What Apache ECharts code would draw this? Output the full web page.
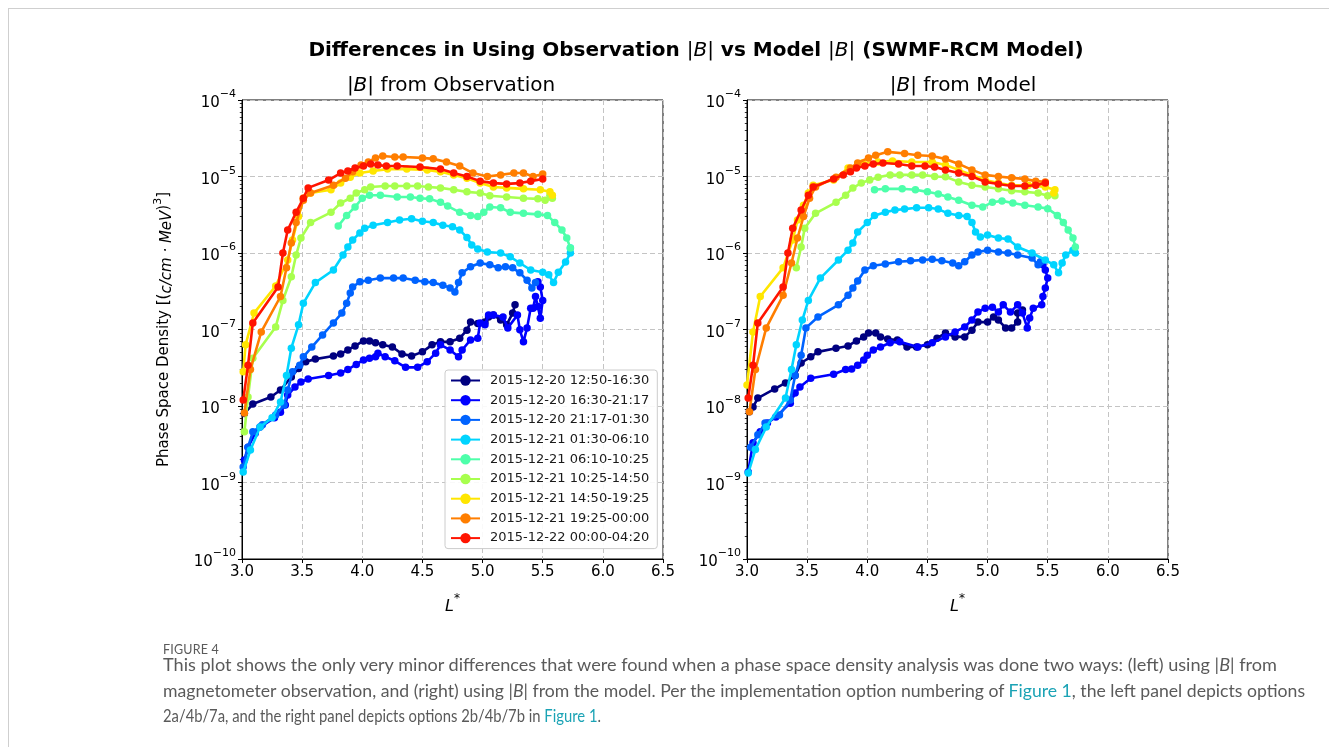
<!DOCTYPE html>
<html><head><meta charset="utf-8">
<script src="https://cdn.jsdelivr.net/npm/echarts@6/dist/echarts.min.js"></script>
<style>
html,body{margin:0;padding:0;background:#fff;overflow:hidden;width:1329px;height:747px}
#chart{position:absolute;left:0;top:0;width:1329px;height:747px}
#frame{position:absolute;left:8px;top:8px;width:1400px;height:800px;border-top:1px solid #cfcfcf;border-left:1px solid #cfcfcf;pointer-events:none}
.cap{position:absolute;left:163px;font-family:Lato,'Open Sans',sans-serif;color:#5a5a5a;white-space:nowrap;transform-origin:0 50%}
#figlabel{top:641px;font-size:13px;line-height:16px;letter-spacing:0.2px}
.ln{font-size:17px;line-height:26px}
.lk{color:#1ba3b5}
</style></head>
<body>
<div id="chart"></div>
<div id="frame"></div>
<div class="cap" id="figlabel">FIGURE 4</div>
<div class="cap ln" id="l1" style="top:652px">This plot shows the only very minor differences that were found when a phase space density analysis was done two ways: (left) using |<i>B</i>| from</div>
<div class="cap ln" id="l2" style="top:678px">magnetometer observation, and (right) using |<i>B</i>| from the model. Per the implementation option numbering of <span class="lk">Figure 1</span>, the left panel depicts options</div>
<div class="cap ln" id="l3" style="top:703px">2a/4b/7a, and the right panel depicts options 2b/4b/7b in <span class="lk">Figure 1</span>.</div>
<script>
// ---- legend labels (time periods) ----
const periods = ['2015-12-20 12:50-16:30','2015-12-20 16:30-21:17','2015-12-20 21:17-01:30','2015-12-21 01:30-06:10','2015-12-21 06:10-10:25','2015-12-21 10:25-14:50','2015-12-21 14:50-19:25','2015-12-21 19:25-00:00','2015-12-22 00:00-04:20'];
// ---- x ticks ----
const xTicks = [3.0, 3.5, 4.0, 4.5, 5.0, 5.5, 6.0, 6.5];
// ---- |B| from observation: [L*, PSD] ----
const obs0 = [[3.02,8.0e-9],[3.09,1.06e-8],[3.24,1.31e-8],[3.32,1.62e-8],[3.41,2.4e-8],[3.47,3.1e-8],[3.53,3.8e-8],[3.61,4.1e-8],[3.76,4.5e-8],[3.82,4.8e-8],[3.88,5.4e-8],[3.94,6.1e-8],[4.01,7.1e-8],[4.06,7.1e-8],[4.11,6.7e-8],[4.17,6.3e-8],[4.25,5.9e-8],[4.33,4.8e-8],[4.41,4.5e-8],[4.50,5.1e-8],[4.58,6.3e-8],[4.65,6.9e-8],[4.73,6.9e-8],[4.81,7.7e-8],[4.87,9.8e-8],[4.90,1.25e-7],[4.96,1.2e-7],[5.02,1.25e-7],[5.05,1.46e-7],[5.09,1.55e-7],[5.15,1.33e-7],[5.20,1.15e-7],[5.25,1.64e-7],[5.27,2.1e-7]];
const obs1 = [[3.02,1.97e-9],[3.05,2.9e-9],[3.11,4.4e-9],[3.15,5.3e-9],[3.27,7.0e-9],[3.32,8.3e-9],[3.36,1.03e-8],[3.38,1.39e-8],[3.44,1.77e-8],[3.49,2.06e-8],[3.55,2.25e-8],[3.72,2.5e-8],[3.82,2.7e-8],[3.88,3.0e-8],[3.95,3.5e-8],[4.01,4.0e-8],[4.06,4.2e-8],[4.11,4.4e-8],[4.13,4.9e-8],[4.19,4.4e-8],[4.27,3.9e-8],[4.36,3.2e-8],[4.46,3.2e-8],[4.54,3.8e-8],[4.61,4.9e-8],[4.65,6.3e-8],[4.73,5.4e-8],[4.80,4.4e-8],[4.83,5.4e-8],[4.90,7.3e-8],[4.96,7.7e-8],[4.98,1.22e-7],[5.02,1.15e-7],[5.05,1.55e-7],[5.09,1.55e-7],[5.17,1.46e-7],[5.21,1.05e-7],[5.29,1.55e-7],[5.31,9.9e-8],[5.34,6.9e-8],[5.37,1.05e-7],[5.40,1.9e-7],[5.42,1.9e-7],[5.44,2.7e-7],[5.46,2.0e-7],[5.48,1.4e-7],[5.50,2.4e-7],[5.48,3.6e-7],[5.46,4.2e-7]];
const obs2 = [[3.01,1.6e-9],[3.05,2.9e-9],[3.09,4.6e-9],[3.17,5.7e-9],[3.28,7.6e-9],[3.35,1.03e-8],[3.38,1.62e-8],[3.42,2.8e-8],[3.48,3.4e-8],[3.51,4.4e-8],[3.58,5.9e-8],[3.67,8.5e-8],[3.76,1.22e-7],[3.83,1.64e-7],[3.87,2.2e-7],[3.90,3.0e-7],[3.92,3.6e-7],[3.98,4.2e-7],[4.05,4.4e-7],[4.15,4.7e-7],[4.26,4.7e-7],[4.34,4.7e-7],[4.44,4.4e-7],[4.52,4.2e-7],[4.59,4.1e-7],[4.67,3.8e-7],[4.73,3.5e-7],[4.77,3.1e-7],[4.80,4.1e-7],[4.83,5.5e-7],[4.90,6.6e-7],[4.98,7.4e-7],[5.06,7.0e-7],[5.13,6.4e-7],[5.19,6.6e-7],[5.25,6.4e-7],[5.31,5.5e-7],[5.37,4.4e-7],[5.41,3.5e-7],[5.44,4.1e-7]];
const obs3 = [[3.01,1.37e-9],[3.07,2.66e-9],[3.15,5.3e-9],[3.25,7.0e-9],[3.32,1.13e-8],[3.37,2.5e-8],[3.41,5.7e-8],[3.47,1.15e-7],[3.51,2.2e-7],[3.61,4.1e-7],[3.76,6.0e-7],[3.84,9.4e-7],[3.88,1.2e-6],[3.92,1.48e-6],[3.98,1.83e-6],[4.02,2.1e-6],[4.09,2.3e-6],[4.21,2.5e-6],[4.31,2.7e-6],[4.41,2.8e-6],[4.50,2.6e-6],[4.59,2.5e-6],[4.67,2.3e-6],[4.75,2.2e-6],[4.81,2.0e-6],[4.87,1.6e-6],[4.91,1.27e-6],[4.96,1.13e-6],[5.04,1.03e-6],[5.15,1.0e-6],[5.23,8.9e-7],[5.31,7.4e-7],[5.40,6.0e-7],[5.50,5.6e-7],[5.55,5.2e-7],[5.59,4.1e-7],[5.63,5.6e-7],[5.69,7.6e-7],[5.73,1.0e-6],[5.73,1.16e-6]];
const obs4 = [[3.80,2.25e-6],[3.87,3.1e-6],[3.94,4.0e-6],[4.00,5.2e-6],[4.06,5.7e-6],[4.15,5.7e-6],[4.29,5.4e-6],[4.40,5.4e-6],[4.48,5.2e-6],[4.56,5.1e-6],[4.65,4.6e-6],[4.71,4.1e-6],[4.81,3.4e-6],[4.90,3.1e-6],[4.96,3.0e-6],[5.01,3.4e-6],[5.06,4.0e-6],[5.15,3.9e-6],[5.23,3.4e-6],[5.34,3.3e-6],[5.46,3.2e-6],[5.54,3.1e-6],[5.60,2.5e-6],[5.66,2.0e-6],[5.70,1.57e-6],[5.73,1.16e-6]];
const obs5 = [[3.02,4.6e-9],[3.05,1.31e-8],[3.09,4.2e-8],[3.28,1.08e-7],[3.34,2.4e-7],[3.41,4.9e-7],[3.45,9.4e-7],[3.49,1.57e-6],[3.57,2.5e-6],[3.74,3.4e-6],[3.82,4.5e-6],[3.90,5.2e-6],[3.95,6.1e-6],[4.02,6.7e-6],[4.07,7.3e-6],[4.19,7.5e-6],[4.27,7.5e-6],[4.37,7.5e-6],[4.46,7.5e-6],[4.55,7.3e-6],[4.65,7.1e-6],[4.76,6.7e-6],[4.87,6.3e-6],[4.98,6.1e-6],[5.06,5.6e-6],[5.20,5.4e-6],[5.34,5.2e-6],[5.46,5.1e-6],[5.52,4.9e-6],[5.58,5.2e-6],[5.56,5.7e-6]];
const obs6 = [[3.01,2.8e-8],[3.03,6.3e-8],[3.10,1.64e-7],[3.28,3.7e-7],[3.38,8.1e-7],[3.42,1.48e-6],[3.47,3.0e-6],[3.51,5.2e-6],[3.57,6.1e-6],[3.74,6.7e-6],[3.82,8.2e-6],[3.90,9.8e-6],[3.98,1.11e-5],[4.09,1.18e-5],[4.21,1.25e-5],[4.37,1.25e-5],[4.54,1.22e-5],[4.65,1.15e-5],[4.76,1.05e-5],[4.87,9.5e-6],[4.98,8.2e-6],[5.09,7.3e-6],[5.20,7.1e-6],[5.34,6.9e-6],[5.48,6.7e-6],[5.56,6.3e-6],[5.58,5.7e-6]];
const obs7 = [[3.02,8.1e-9],[3.07,3.0e-8],[3.16,9.3e-8],[3.32,2.7e-7],[3.37,6.4e-7],[3.41,1.35e-6],[3.45,2.5e-6],[3.51,4.9e-6],[3.57,6.1e-6],[3.76,7.7e-6],[3.86,9.5e-6],[3.92,1.15e-5],[3.99,1.41e-5],[4.05,1.55e-5],[4.11,1.75e-5],[4.17,1.85e-5],[4.27,1.8e-5],[4.34,1.8e-5],[4.50,1.75e-5],[4.59,1.7e-5],[4.70,1.55e-5],[4.81,1.37e-5],[4.92,1.11e-5],[5.04,1.0e-5],[5.15,1.05e-5],[5.26,1.11e-5],[5.34,1.11e-5],[5.42,1.0e-5],[5.50,1.08e-5]];
const obs8 = [[3.01,1.2e-8],[3.05,3.4e-8],[3.09,1.22e-7],[3.30,3.6e-7],[3.34,1.0e-6],[3.38,2.0e-6],[3.45,3.4e-6],[3.51,5.2e-6],[3.55,7.1e-6],[3.72,9.0e-6],[3.82,1.11e-5],[3.88,1.18e-5],[3.94,1.29e-5],[4.01,1.37e-5],[4.07,1.46e-5],[4.13,1.41e-5],[4.20,1.37e-5],[4.29,1.37e-5],[4.48,1.33e-5],[4.65,1.25e-5],[4.76,1.11e-5],[4.87,1.0e-5],[4.98,8.7e-6],[5.09,8.2e-6],[5.20,8.0e-6],[5.31,8.2e-6],[5.40,8.7e-6],[5.50,9.3e-6]];
// ---- |B| from model: [L*, PSD] ----
const mod0 = [[3.02,8.4e-9],[3.05,9.7e-9],[3.09,1.27e-8],[3.23,1.67e-8],[3.32,2.0e-8],[3.40,2.5e-8],[3.45,3.65e-8],[3.53,4.4e-8],[3.59,5.1e-8],[3.74,5.7e-8],[3.84,6.1e-8],[3.91,7.1e-8],[3.97,8.0e-8],[4.01,9.0e-8],[4.07,9.0e-8],[4.11,8.0e-8],[4.17,7.5e-8],[4.25,7.3e-8],[4.33,5.9e-8],[4.41,5.9e-8],[4.50,6.3e-8],[4.58,7.7e-8],[4.65,9.0e-8],[4.73,8.0e-8],[4.81,8.0e-8],[4.87,9.8e-8],[4.92,1.25e-7],[5.00,1.25e-7],[5.05,1.46e-7],[5.09,1.33e-7],[5.15,1.05e-7],[5.20,1.05e-7],[5.25,1.25e-7],[5.25,1.64e-7],[5.29,1.8e-7]];
const mod1 = [[3.01,1.37e-9],[3.05,3.3e-9],[3.11,4.6e-9],[3.17,6.0e-9],[3.24,7.2e-9],[3.36,1.09e-8],[3.40,1.48e-8],[3.44,1.77e-8],[3.53,2.3e-8],[3.72,2.6e-8],[3.82,3.0e-8],[3.87,3.05e-8],[3.92,3.4e-8],[3.97,4.0e-8],[4.00,4.6e-8],[4.05,5.4e-8],[4.11,5.9e-8],[4.19,6.7e-8],[4.27,6.9e-8],[4.42,5.9e-8],[4.54,6.7e-8],[4.65,8.0e-8],[4.73,9.3e-8],[4.81,1.08e-7],[4.87,1.33e-7],[4.92,1.69e-7],[4.98,1.9e-7],[5.04,1.95e-7],[5.09,1.69e-7],[5.13,2.1e-7],[5.19,1.69e-7],[5.25,2.1e-7],[5.29,1.64e-7],[5.33,1.05e-7],[5.35,1.41e-7],[5.38,1.9e-7],[5.45,2.1e-7],[5.46,2.7e-7],[5.48,3.5e-7],[5.50,4.7e-7],[5.48,6.0e-7],[5.46,7.0e-7],[5.44,7.6e-7]];
const mod2 = [[3.03,2.9e-9],[3.09,4.2e-9],[3.15,6.0e-9],[3.27,7.6e-9],[3.36,1.2e-8],[3.40,2.5e-8],[3.45,4.6e-8],[3.49,1.05e-7],[3.59,1.46e-7],[3.76,2.1e-7],[3.84,2.8e-7],[3.88,3.5e-7],[3.92,4.3e-7],[3.98,6.0e-7],[4.05,6.8e-7],[4.15,7.2e-7],[4.26,7.7e-7],[4.36,7.9e-7],[4.46,8.1e-7],[4.54,8.3e-7],[4.62,7.9e-7],[4.71,7.4e-7],[4.76,6.8e-7],[4.81,7.7e-7],[4.87,9.4e-7],[4.92,1.03e-6],[5.00,1.09e-6],[5.09,1.03e-6],[5.17,1.0e-6],[5.25,9.4e-7],[5.37,8.6e-7],[5.42,7.0e-7],[5.44,7.6e-7]];
const mod3 = [[3.01,1.33e-9],[3.07,2.7e-9],[3.16,5.3e-9],[3.32,1.27e-8],[3.37,3.0e-8],[3.41,6.3e-8],[3.46,1.33e-7],[3.51,2.4e-7],[3.61,4.7e-7],[3.76,8.1e-7],[3.84,1.09e-6],[3.88,1.35e-6],[3.92,1.88e-6],[4.00,2.5e-6],[4.06,3.1e-6],[4.15,3.4e-6],[4.23,3.65e-6],[4.31,3.75e-6],[4.41,3.9e-6],[4.51,3.9e-6],[4.59,3.75e-6],[4.67,3.3e-6],[4.76,3.1e-6],[4.83,3.0e-6],[4.87,2.5e-6],[4.90,1.88e-6],[4.94,1.62e-6],[5.00,1.72e-6],[5.09,1.57e-6],[5.17,1.52e-6],[5.25,1.2e-6],[5.37,1.0e-6],[5.48,8.1e-7],[5.55,7.0e-7],[5.59,5.5e-7],[5.62,7.4e-7],[5.65,9.4e-7],[5.71,1.09e-6],[5.73,1.0e-6]];
const mod4 = [[4.06,6.7e-6],[4.15,6.9e-6],[4.29,6.9e-6],[4.40,6.7e-6],[4.50,6.3e-6],[4.59,5.9e-6],[4.67,5.4e-6],[4.76,4.9e-6],[4.87,4.2e-6],[4.96,4.0e-6],[5.04,4.6e-6],[5.12,4.8e-6],[5.21,4.5e-6],[5.31,4.2e-6],[5.42,4.0e-6],[5.50,3.8e-6],[5.58,3.1e-6],[5.63,2.5e-6],[5.67,2.0e-6],[5.71,1.57e-6],[5.73,1.2e-6]];
const mod5 = [[3.41,6.4e-7],[3.45,1.2e-6],[3.48,2.1e-6],[3.57,3.3e-6],[3.74,4.6e-6],[3.82,5.7e-6],[3.88,7.1e-6],[3.95,8.2e-6],[4.02,9.0e-6],[4.09,9.8e-6],[4.19,1.05e-5],[4.27,1.05e-5],[4.37,1.05e-5],[4.46,1.05e-5],[4.56,1.0e-5],[4.65,9.9e-6],[4.76,8.5e-6],[4.87,7.7e-6],[4.98,7.3e-6],[5.09,6.9e-6],[5.20,6.5e-6],[5.31,6.3e-6],[5.42,6.1e-6],[5.50,5.6e-6],[5.56,5.6e-6]];
const mod6 = [[3.00,1.88e-8],[3.05,9.3e-8],[3.11,2.7e-7],[3.30,6.4e-7],[3.38,1.48e-6],[3.42,2.7e-6],[3.47,4.2e-6],[3.51,6.1e-6],[3.55,7.7e-6],[3.72,9.0e-6],[3.84,1.29e-5],[3.96,1.5e-5],[4.09,1.55e-5],[4.21,1.6e-5],[4.37,1.55e-5],[4.54,1.55e-5],[4.65,1.41e-5],[4.76,1.22e-5],[4.87,1.05e-5],[4.98,9.0e-6],[5.09,8.2e-6],[5.20,7.7e-6],[5.34,7.7e-6],[5.48,7.3e-6],[5.56,6.7e-6],[5.55,6.1e-6]];
const mod7 = [[3.02,8.4e-9],[3.07,3.0e-8],[3.16,1.05e-7],[3.30,2.8e-7],[3.37,7.4e-7],[3.42,1.57e-6],[3.47,3.0e-6],[3.52,5.2e-6],[3.57,7.3e-6],[3.74,9.8e-6],[3.86,1.29e-5],[3.92,1.5e-5],[4.01,1.75e-5],[4.07,1.9e-5],[4.17,2.1e-5],[4.31,2.0e-5],[4.42,1.9e-5],[4.54,1.85e-5],[4.65,1.69e-5],[4.76,1.46e-5],[4.87,1.22e-5],[4.98,1.05e-5],[5.09,1.0e-5],[5.20,9.6e-6],[5.31,9.3e-6],[5.40,8.7e-6],[5.48,8.5e-6]];
const mod8 = [[3.01,1.27e-8],[3.05,3.4e-8],[3.09,1.22e-7],[3.30,3.6e-7],[3.34,1.0e-6],[3.38,2.1e-6],[3.45,3.65e-6],[3.51,5.7e-6],[3.55,7.3e-6],[3.72,9.3e-6],[3.80,1.05e-5],[3.86,1.15e-5],[3.91,1.29e-5],[3.98,1.37e-5],[4.05,1.46e-5],[4.13,1.5e-5],[4.26,1.46e-5],[4.37,1.37e-5],[4.48,1.37e-5],[4.56,1.33e-5],[4.65,1.22e-5],[4.76,1.11e-5],[4.87,1.0e-5],[4.98,8.5e-6],[5.09,8.0e-6],[5.20,7.5e-6],[5.31,7.5e-6],[5.40,7.7e-6],[5.48,8.2e-6]];

const obsSeries = [obs0, obs1, obs2, obs3, obs4, obs5, obs6, obs7, obs8];
const modSeries = [mod0, mod1, mod2, mod3, mod4, mod5, mod6, mod7, mod8];
const palette = ['#000080','#0000ff','#0063ff','#00d4ff','#4dffaa','#a8ff4e','#ffe600','#ff7e00','#ff1400'];
const minorVals = [];
for (let e = -10; e < -4; e++) for (let m = 2; m <= 9; m++) minorVals.push(m * Math.pow(10, e));

const FONT = 'DejaVu Sans';
const chart = echarts.init(document.getElementById('chart'), null, {renderer: 'canvas'});
const gridL = 242, gridR = 747, gridW = 421, gridT = 100, gridH = 459;

function xAxisCfg(gi) {
  return {
    type: 'value', gridIndex: gi, min: 3, max: 6.5, interval: 0.5,
    name: '{i|L}{s|*}', nameLocation: 'middle', nameGap: 34,
    nameTextStyle: {fontFamily: FONT, color: '#000', rich: {
      i: {fontStyle: 'italic', fontSize: 16, fontFamily: FONT, lineHeight: 22, verticalAlign: 'bottom'},
      s: {fontSize: 12, fontFamily: FONT, lineHeight: 14, verticalAlign: 'top'}}},
    axisLine: {show: true, lineStyle: {color: '#000', width: 1}},
    axisTick: {show: true, length: 4, lineStyle: {color: '#000'}},
    axisLabel: {fontFamily: FONT, fontSize: 15, color: '#000', margin: 6, showMinLabel: true, showMaxLabel: true,
      formatter: v => v.toFixed(1)},
    splitLine: {show: true, lineStyle: {color: '#c4c4c4', type: [5, 3], width: 1}}
  };
}
function yAxisCfg(gi, withName) {
  return {
    type: 'log', logBase: 10, gridIndex: gi, min: 1e-10, max: 1e-4, splitNumber: 6,
    name: withName ? 'Phase Space Density [({i|c/cm · MeV}){s|3}]' : '',
    nameLocation: 'middle', nameGap: 67, nameRotate: 90,
    nameTextStyle: {fontFamily: FONT, fontSize: 15, color: '#000', rich: {
      i: {fontStyle: 'italic', fontSize: 15, fontFamily: FONT, lineHeight: 22, verticalAlign: 'bottom'},
      s: {fontSize: 11, fontFamily: FONT, lineHeight: 12, verticalAlign: 'top'}}},
    axisLine: {show: true, lineStyle: {color: '#000', width: 1}},
    axisTick: {show: true, length: 4, lineStyle: {color: '#000'}},
    axisLabel: {fontFamily: FONT, fontSize: 15, color: '#000', margin: 6,
      formatter: v => '{b|10}{s|−' + Math.round(-Math.log10(v)) + '}',
      rich: {b: {fontSize: 15, fontFamily: FONT, color: '#000', lineHeight: 22, verticalAlign: 'bottom'},
             s: {fontSize: 11, fontFamily: FONT, color: '#000', lineHeight: 12, verticalAlign: 'top'}}},
    splitLine: {show: true, lineStyle: {color: '#c4c4c4', type: [5, 3], width: 1}}
  };
}
function minorAxisCfg(gi) {
  return {
    type: 'log', logBase: 10, gridIndex: gi, min: 1e-10, max: 1e-4, position: 'left',
    axisLine: {show: false}, axisLabel: {show: false}, splitLine: {show: false},
    axisTick: {show: true, length: 2.2, customValues: minorVals, lineStyle: {color: '#000', width: 0.8}}
  };
}

const series = [];
obsSeries.forEach((d, i) => series.push({
  name: periods[i], type: 'line', xAxisIndex: 0, yAxisIndex: 0, data: d,
  symbol: 'circle', symbolSize: 7.5, showSymbol: true, color: palette[i],
  lineStyle: {width: 2.6, color: palette[i]}, itemStyle: {color: palette[i]}, z: 3 + i
}));
modSeries.forEach((d, i) => series.push({
  name: periods[i], type: 'line', xAxisIndex: 1, yAxisIndex: 1, data: d,
  symbol: 'circle', symbolSize: 7.5, showSymbol: true, color: palette[i],
  lineStyle: {width: 2.6, color: palette[i]}, itemStyle: {color: palette[i]}, z: 3 + i
}));

const mrich = {
  t: {fontFamily: FONT, fontWeight: 'bold', fontSize: 20, color: '#000'},
  m: {fontFamily: FONT, fontWeight: 'normal', fontSize: 20, color: '#000'},
  mi: {fontFamily: FONT, fontWeight: 'normal', fontStyle: 'italic', fontSize: 20, color: '#000'},
  n: {fontFamily: FONT, fontWeight: 'normal', fontSize: 20, color: '#000'},
  ni: {fontFamily: FONT, fontWeight: 'normal', fontStyle: 'italic', fontSize: 20, color: '#000'}
};

chart.setOption({
  animation: false,
  backgroundColor: '#fff',
  textStyle: {fontFamily: FONT},
  title: [
    {text: '{t|Differences in Using Observation }{m||}{mi|B}{m||}{t| vs Model }{m||}{mi|B}{m||}{t| (SWMF-RCM Model)}',
     left: 691, top: 36, textAlign: 'center', textStyle: {fontWeight: 'normal', rich: mrich}},
    {text: '{n||}{ni|B}{n||}{n| from Observation}', left: 446, top: 71, textAlign: 'center', textStyle: {fontWeight: 'normal', rich: mrich}},
    {text: '{n||}{ni|B}{n||}{n| from Model}', left: 958, top: 71, textAlign: 'center', textStyle: {fontWeight: 'normal', rich: mrich}}
  ],
  legend: {
    show: true, orient: 'vertical', left: 445, top: 370,
    data: periods,
    itemWidth: 29, itemHeight: 13, itemGap: 6.7,
    padding: [4, 8, 4, 5],
    backgroundColor: 'rgba(255,255,255,0.9)', borderColor: '#cccccc', borderWidth: 1, borderRadius: 3,
    textStyle: {fontFamily: FONT, fontSize: 13, color: '#1a1a1a', padding: [0, 0, 0, 5]},
    selectedMode: false
  },
  grid: [
    {left: gridL, top: gridT, width: gridW, height: gridH, show: true, borderColor: '#000', borderWidth: 1, backgroundColor: 'transparent'},
    {left: gridR, top: gridT, width: gridW, height: gridH, show: true, borderColor: '#000', borderWidth: 1, backgroundColor: 'transparent'}
  ],
  xAxis: [xAxisCfg(0), xAxisCfg(1)],
  yAxis: [yAxisCfg(0, true), yAxisCfg(1, false), minorAxisCfg(0), minorAxisCfg(1)],
  series: series
});

// fit each caption line horizontally to the width it has in the figure
(function fitCaption() {
  const targets = {figlabel: 56, l1: 1114, l2: 1142, l3: 438};
  Object.keys(targets).forEach(id => {
    const el = document.getElementById(id);
    const w = el.getBoundingClientRect().width;
    el.style.transform = 'scaleX(' + (targets[id] / w).toFixed(4) + ')';
  });
})();
</script>
</body></html>
